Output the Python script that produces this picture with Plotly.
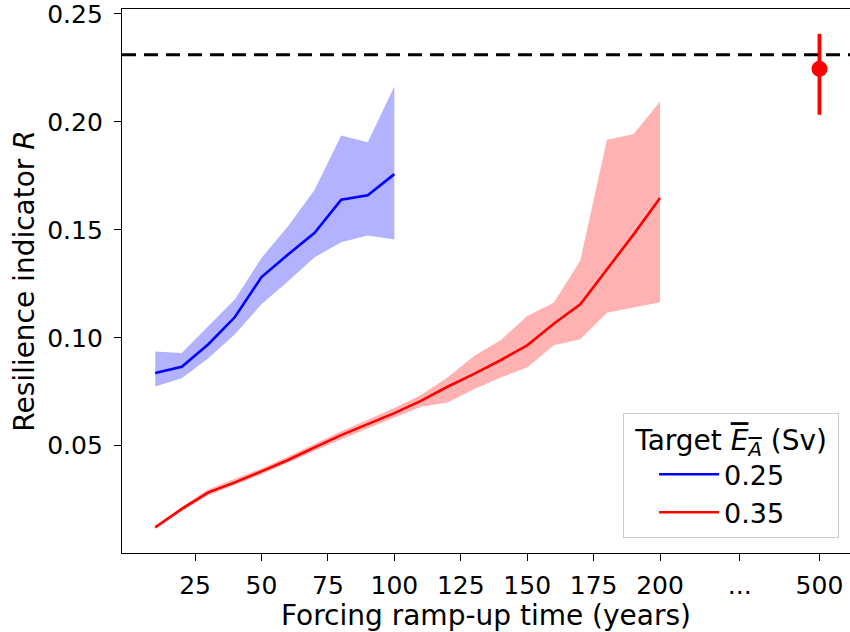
import plotly.graph_objects as go

# ---- data ----
x_blue = [10, 20, 30, 40, 50, 60, 70, 80, 90, 100]
blue_mean = [0.0837, 0.0866, 0.0970, 0.1096, 0.1281, 0.1386, 0.1486, 0.1640, 0.1660, 0.1758]
blue_upper = [0.0936, 0.0930, 0.1055, 0.1178, 0.1370, 0.1517, 0.1686, 0.1937, 0.1906, 0.2164]
blue_lower = [0.0774, 0.0813, 0.0905, 0.1016, 0.1155, 0.1262, 0.1373, 0.1443, 0.1474, 0.1455]

x_red = [10, 20, 30, 40, 50, 60, 70, 80, 90, 100, 110, 120, 130, 140, 150, 160, 170, 180, 190, 200]
red_mean = [0.0122, 0.0207, 0.0284, 0.0330, 0.0381, 0.0434, 0.0492, 0.0549, 0.0600, 0.0651,
            0.0708, 0.0773, 0.0833, 0.0896, 0.0965, 0.1065, 0.1155, 0.1317, 0.1478, 0.1647]
red_upper = [0.0128, 0.0216, 0.0298, 0.0345, 0.0395, 0.0450, 0.0508, 0.0567, 0.0620, 0.0675,
             0.0735, 0.0816, 0.0916, 0.0989, 0.1101, 0.1162, 0.1358, 0.1917, 0.1943, 0.2094]
red_lower = [0.0117, 0.0197, 0.0270, 0.0318, 0.0368, 0.0420, 0.0475, 0.0530, 0.0580, 0.0630,
             0.0680, 0.0700, 0.0762, 0.0816, 0.0862, 0.0965, 0.0993, 0.1116, 0.1139, 0.1165]

x_500 = [260]          # plotted position of the "500" category
red_500 = [0.2246]
red_500_err_plus = [0.0162]
red_500_err_minus = [0.0213]

threshold = 0.2311

x_tickvals = [25, 50, 75, 100, 125, 150, 175, 200, 230, 260]
x_ticktext = ["25", "50", "75", "100", "125", "150", "175", "200", "...", "500"]
y_tickvals = [0.05, 0.10, 0.15, 0.20, 0.25]

FONT = "DejaVu Sans"
TICK_FS = 25
TITLE_FS = 28
LEG_FS = 27

fig = go.Figure()

# bands
fig.add_trace(go.Scatter(x=x_blue + x_blue[::-1], y=blue_upper + blue_lower[::-1],
                         fill="toself", fillcolor="rgba(0,0,255,0.3)", line=dict(width=0),
                         mode="lines", showlegend=False, hoverinfo="skip"))
fig.add_trace(go.Scatter(x=x_red + x_red[::-1], y=red_upper + red_lower[::-1],
                         fill="toself", fillcolor="rgba(255,0,0,0.3)", line=dict(width=0),
                         mode="lines", showlegend=False, hoverinfo="skip"))

# threshold line
fig.add_hline(y=threshold, line=dict(color="black", width=3, dash="14px,8px"))

# mean lines
fig.add_trace(go.Scatter(x=x_blue, y=blue_mean, mode="lines", name="0.25",
                         line=dict(color="blue", width=2.6)))
fig.add_trace(go.Scatter(x=x_red, y=red_mean, mode="lines", name="0.35",
                         line=dict(color="red", width=2.6)))

# point at 500
fig.add_trace(go.Scatter(x=x_500, y=red_500, mode="markers", showlegend=False,
                         marker=dict(color="red", size=16),
                         error_y=dict(type="data", symmetric=False, array=red_500_err_plus,
                                      arrayminus=red_500_err_minus, color="red",
                                      thickness=3.8, width=0)))

fig.update_layout(
    width=850, height=632,
    margin=dict(l=122, r=0, t=7, b=79),
    paper_bgcolor="white", plot_bgcolor="white",
    font=dict(family=FONT, size=TICK_FS, color="black"),
    legend=dict(
        title=dict(text="&nbsp;Target <span style='text-decoration:overline'><i>E<sub>A</sub></i></span> (Sv)&nbsp;",
                   side="top center", font=dict(size=TITLE_FS)),
        x=0.985, xanchor="right", y=0.028, yanchor="bottom",
        bgcolor="rgba(255,255,255,0.8)", bordercolor="#cccccc", borderwidth=1,
        font=dict(size=LEG_FS), itemwidth=60, indentation=30,
    ),
)

fig.update_xaxes(
    range=[-2.5, 271.5], tickvals=x_tickvals, ticktext=x_ticktext,
    showgrid=False, zeroline=False,
    showline=True, linecolor="black", linewidth=1.3, mirror=True,
    ticks="outside", ticklen=7, tickwidth=1.3, tickcolor="black",
    tickfont=dict(size=TICK_FS), ticklabelstandoff=3, ticklabeloverflow="allow",
    title=dict(text="Forcing ramp-up time (years)", standoff=6, font=dict(size=TITLE_FS)),
)
fig.update_yaxes(
    range=[0.0003, 0.2523], tickvals=y_tickvals, tickformat=".2f",
    showgrid=False, zeroline=False,
    showline=True, linecolor="black", linewidth=1.3,
    ticks="outside", ticklen=7, tickwidth=1.3, tickcolor="black",
    tickfont=dict(size=TICK_FS), ticklabelstandoff=6, ticklabeloverflow="allow",
    title=dict(text="Resilience indicator <i>R</i>", standoff=4, font=dict(size=TITLE_FS)),
)

fig.write_html("out.html")
